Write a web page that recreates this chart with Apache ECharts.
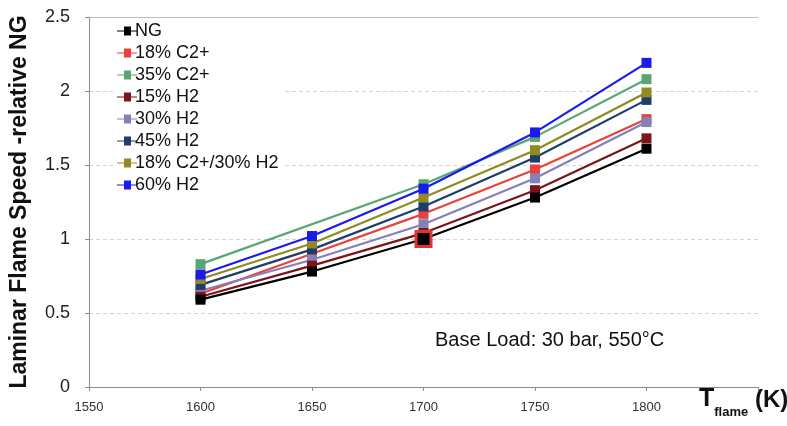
<!DOCTYPE html>
<html>
<head>
<meta charset="utf-8">
<script src="https://cdn.jsdelivr.net/npm/echarts@6/dist/echarts.min.js"></script>
<style>html,body{margin:0;padding:0;background:#fff}#c{width:787px;height:426px}</style>
</head>
<body>
<div id="c"></div>
<script>
const temps = [1600, 1650, 1700, 1750, 1800];
const seriesNames = ['NG', '18% C2+', '35% C2+', '15% H2', '30% H2', '45% H2', '18% C2+/30% H2', '60% H2'];
const ng      = [0.59, 0.78, 1.00, 1.28, 1.61];
const c2_18   = [0.63, 0.90, 1.17, 1.47, 1.81];
const c2_35   = [0.83, null, 1.37, 1.69, 2.08];
const h2_15   = [0.61, 0.82, 1.04, 1.33, 1.68];
const h2_30   = [0.65, 0.86, 1.10, 1.41, 1.79];
const h2_45   = [0.69, 0.93, 1.22, 1.55, 1.94];
const mix     = [0.73, 0.97, 1.28, 1.60, 1.99];
const h2_60   = [0.76, 1.02, 1.34, 1.72, 2.19];
const xTicks = [1550, 1600, 1650, 1700, 1750, 1800];
const yTicks = [0, 0.5, 1, 1.5, 2, 2.5];

const values = [ng, c2_18, c2_35, h2_15, h2_30, h2_45, mix, h2_60];
const colors = ['#000000', '#e8423b', '#5aa673', '#7b1518', '#8580b8', '#1f3d6b', '#8f8b22', '#1a1aee'];
const zs = [10, 3, 2, 4, 3, 3, 3, 5];
const FONT = 'Liberation Sans, Arial, sans-serif';

const series = seriesNames.map((name, i) => ({
  name: name,
  type: 'line',
  symbol: 'rect',
  symbolSize: 10,
  connectNulls: true,
  z: zs[i],
  lineStyle: { color: colors[i], width: 2.2 },
  itemStyle: { color: colors[i] },
  data: temps.map((t, j) => {
    if (values[i][j] === null) return [t, null];
    if (i === 0 && t === 1700) {
      return { value: [t, values[i][j]], symbolSize: 15, itemStyle: { color: '#000', borderColor: '#e0342c', borderWidth: 3 } };
    }
    return [t, values[i][j]];
  }),
  animation: false
}));

const chart = echarts.init(document.getElementById('c'));
chart.setOption({
  backgroundColor: '#fff',
  animation: false,
  grid: { left: 89, right: 29, top: 17, bottom: 39 },
  legend: {
    orient: 'vertical',
    left: 113, top: 20,
    itemWidth: 20, itemHeight: 9,
    itemGap: 4,
    backgroundColor: '#fff',
    padding: [2, 6, 2, 4],
    textStyle: { fontFamily: FONT, fontSize: 18, color: '#111', padding: [0, 0, 0, -7], lineHeight: 18 },
    data: seriesNames.map((n, i) => ({ name: n, icon: 'path://M0,4 L7,4 L7,0 L14,0 L14,4 L20,4 L20,5 L14,5 L14,9 L7,9 L7,5 L0,5 Z' }))
  },
  xAxis: {
    type: 'value', min: 1550, max: 1850, interval: 50,
    axisLine: { show: true, lineStyle: { color: '#8c8c8c', width: 1 } },
    axisTick: { show: true, length: 4, lineStyle: { color: '#8c8c8c' } },
    splitLine: { show: false },
    axisLabel: {
      color: '#333', fontSize: 13, fontFamily: FONT, margin: 14,
      formatter: v => xTicks.includes(v) ? String(v) : ''
    }
  },
  yAxis: {
    type: 'value', min: 0, max: 2.5, interval: 0.5,
    name: 'Laminar Flame Speed -relative NG',
    nameLocation: 'middle', nameGap: 58,
    nameTextStyle: { fontFamily: FONT, fontSize: 23, fontWeight: 'bold', color: '#111' },
    axisLine: { show: true, lineStyle: { color: '#8c8c8c', width: 1 } },
    axisTick: { show: true, length: 4, lineStyle: { color: '#8c8c8c' } },
    splitLine: { show: true, lineStyle: { color: '#d4d4d4', type: [4, 3], width: 1 } },
    axisLabel: {
      color: '#222', fontSize: 18, fontFamily: FONT, margin: 19,
      formatter: v => yTicks.includes(v) ? String(v) : ''
    }
  },
  graphic: [
    {
      type: 'text', left: 435, top: 330,
      style: { text: 'Base Load: 30 bar, 550°C', fontFamily: FONT, fontSize: 20, fill: '#111' }
    },
    {
      type: 'text', left: 699, top: 387,
      style: {
        text: '{a|T}{b|flame}{c| (K)}',
        rich: {
          a: { fontFamily: FONT, fontSize: 25, fontWeight: 'bold', fill: '#111', verticalAlign: 'bottom' },
          b: { fontFamily: FONT, fontSize: 13, fontWeight: 'bold', fill: '#111', verticalAlign: 'bottom', padding: [0, 0, -7, 0] },
          c: { fontFamily: FONT, fontSize: 24, fontWeight: 'bold', fill: '#111', verticalAlign: 'bottom' }
        }
      }
    },
    {
      type: 'line', shape: { x1: 89, y1: 17.5, x2: 758, y2: 17.5 },
      style: { stroke: '#bdbdbd', lineWidth: 1 }, z: 1
    }
  ],
  series: series
});
</script>
</body>
</html>
